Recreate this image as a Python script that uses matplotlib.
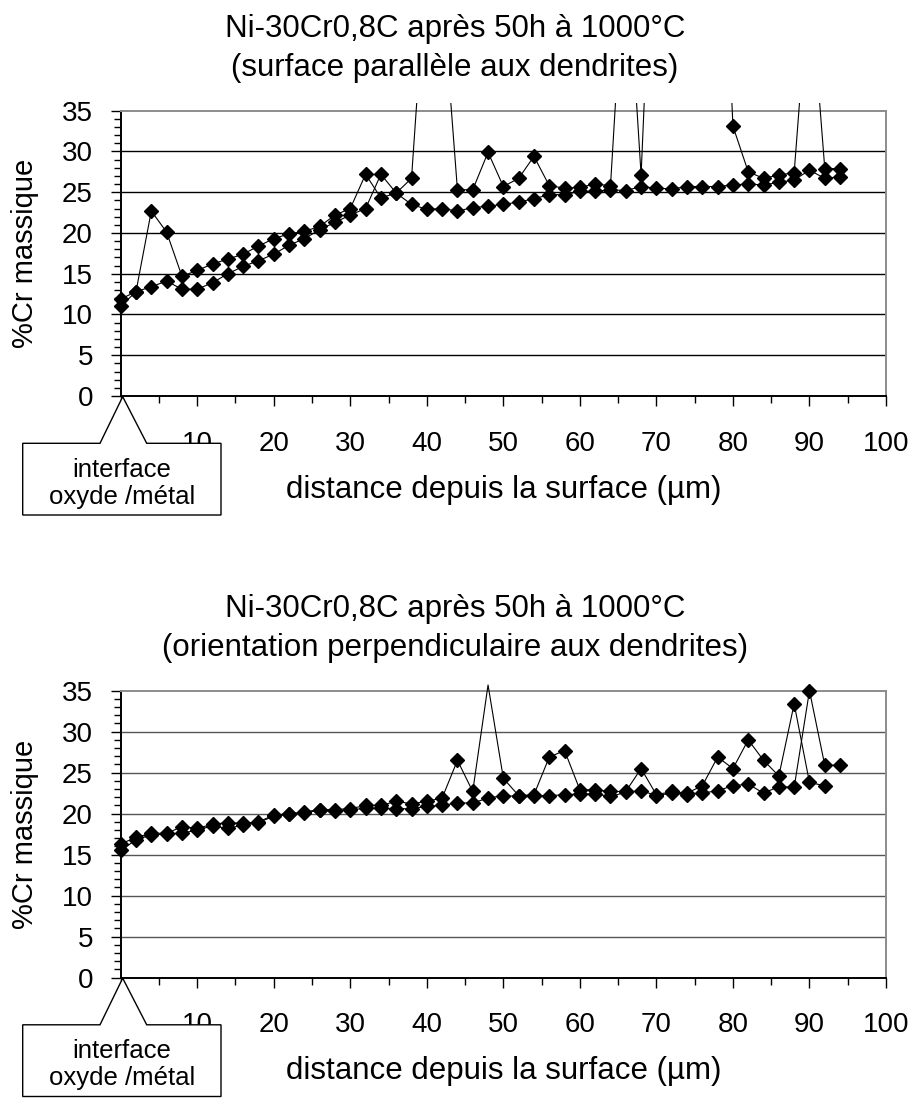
import numpy as np
import matplotlib.pyplot as plt
from matplotlib.patches import Polygon, Rectangle
from matplotlib.ticker import MultipleLocator

plt.rcParams['font.family'] = ['Liberation Sans', 'DejaVu Sans']

# distance from surface (µm), one point every 2 µm
dist = np.arange(0, 96, 2)

# surface parallel to dendrites (values > 35 are off the chart)
para_a = [11.9, 12.8, 22.7, 20.1, 14.7, 15.4, 16.2, 16.8, 17.4, 18.4, 19.3, 19.9,
          20.2, 20.8, 22.2, 23.0, 27.2, 24.3, 24.9, 26.7, 54.0, 50.0, 25.3, 25.3,
          29.9, 25.7, 26.7, 29.4, 25.8, 25.5, 25.6, 26.0, 25.8, 57.0, 27.1, 71.0,
          73.0, 72.0, 74.0, 75.0, 33.1, 27.5, 26.7, 27.1, 27.4, 52.0, 27.9, 27.9]
para_b = [11.0, 12.8, 13.4, 14.1, 13.1, 13.1, 13.9, 15.0, 15.9, 16.6, 17.4, 18.5,
          19.3, 20.4, 21.3, 22.2, 23.0, 27.2, 24.9, 23.5, 22.9, 23.0, 22.7, 23.1,
          23.3, 23.5, 23.8, 24.2, 24.7, 24.7, 25.1, 25.1, 25.3, 25.2, 25.7, 25.5,
          25.4, 25.7, 25.7, 25.7, 25.9, 26.0, 25.9, 26.2, 26.5, 27.7, 26.7, 26.9]

# orientation perpendicular to dendrites
perp_a = [16.3, 17.1, 17.6, 17.6, 18.4, 18.2, 18.7, 18.9, 18.8, 19.0, 19.8, 20.0,
          20.2, 20.5, 20.5, 20.6, 21.0, 21.0, 21.5, 21.2, 21.5, 21.9, 26.5, 22.7,
          35.7, 24.3, 22.2, 22.3, 26.9, 27.7, 22.9, 22.9, 22.7, 22.7, 25.5, 22.3,
          22.7, 22.5, 23.4, 26.9, 25.5, 29.0, 26.5, 24.6, 33.4, 23.8, 23.4]
perp_b = [15.5, 16.8, 17.4, 17.5, 17.6, 18.0, 18.5, 18.2, 18.6, 18.9, 19.7, 19.9,
          20.1, 20.4, 20.3, 20.4, 20.7, 20.7, 20.6, 20.6, 20.9, 21.0, 21.3, 21.3,
          21.9, 22.2, 22.1, 22.2, 22.2, 22.3, 22.4, 22.4, 22.1, 22.6, 22.8, 22.2,
          22.5, 22.3, 22.5, 22.8, 23.4, 23.6, 22.5, 23.3, 23.2, 35.0, 25.9, 25.9]

title_top = ["Ni-30Cr0,8C après 50h à 1000°C", "(surface parallèle aux dendrites)"]
title_bot = ["Ni-30Cr0,8C après 50h à 1000°C", "(orientation perpendiculaire aux dendrites)"]
ylabel = "%Cr massique"
xlabel = "distance depuis la surface (µm)"
callout = ["interface", "oxyde /métal"]

W, H = 916, 1115
fig = plt.figure(figsize=(W / 100, H / 100), dpi=100)


def fx(x):
    return x / W


def fy(y):
    return 1 - y / H


def panel(top, bottom, series, titles, grid_color):
    left, right = 120.7, 886
    ax = fig.add_axes([fx(left), fy(bottom), (right - left) / W, (bottom - top) / H])
    ax.set_xlim(0, 100)
    ax.set_ylim(0, 35)
    ax.xaxis.set_major_locator(MultipleLocator(10))
    ax.xaxis.set_minor_locator(MultipleLocator(5))
    ax.yaxis.set_major_locator(MultipleLocator(5))
    ax.yaxis.set_minor_locator(MultipleLocator(1))
    ax.tick_params(which='major', direction='out', length=7, width=1, labelsize=20)
    ax.tick_params(which='minor', direction='out', length=5, width=1)
    ax.tick_params(axis='x', which='major', pad=18)
    ax.tick_params(axis='y', which='major', pad=13)
    for s in ['left', 'bottom']:
        ax.spines[s].set_linewidth(1.4)
    for s in ['top', 'right']:
        ax.spines[s].set_color('#8c8c8c')
        ax.spines[s].set_linewidth(1.4)
    for g in range(5, 35, 5):
        ax.axhline(g, color=grid_color, lw=1, zorder=1)

    clip = Rectangle((0, 0), 1, 1.026, transform=ax.transAxes)
    for vals in series:
        y = np.array(vals)
        x = dist[:len(y)]
        ln, = ax.plot(x, y, color='black', lw=0.8, zorder=3)
        ln.set_clip_path(clip)
        keep = y <= 35.2
        ax.plot(x[keep], y[keep], 'D', color='black', ms=7, zorder=4, clip_on=False)

    fig.text(fx(455), fy(top - 74), titles[0], fontsize=22.5, ha='center', va='baseline')
    fig.text(fx(455), fy(top - 34.7), titles[1], fontsize=22.5, ha='center', va='baseline')
    fig.text(fx(25), fy((top + bottom) / 2), ylabel, fontsize=21, rotation=90,
             ha='center', va='center')
    fig.text(fx(503.4), fy(bottom + 94), xlabel, fontsize=22.5, ha='center', va='center')

    # wedge callout pointing at the oxide/metal interface
    pts = [(22.7, bottom + 47.3), (100, bottom + 47.3), (122.7, bottom + 0.7),
           (146.7, bottom + 47.3), (221, bottom + 47.3), (221, bottom + 119),
           (22.7, bottom + 119)]
    fig.add_artist(Polygon([(fx(a), fy(b)) for a, b in pts], closed=True,
                           transform=fig.transFigure, fc='white', ec='black',
                           lw=1, zorder=5))
    fig.text(fx(122), fy(bottom + 74), callout[0], fontsize=18.5, ha='center',
             va='center', zorder=6)
    fig.text(fx(122), fy(bottom + 101), callout[1], fontsize=18.5, ha='center',
             va='center', zorder=6)
    return ax


panel(110.7, 396, [para_a, para_b], title_top, 'black')
panel(690.7, 977.5, [perp_a, perp_b], title_bot, '#555555')

fig.savefig("out.png", dpi=100)
